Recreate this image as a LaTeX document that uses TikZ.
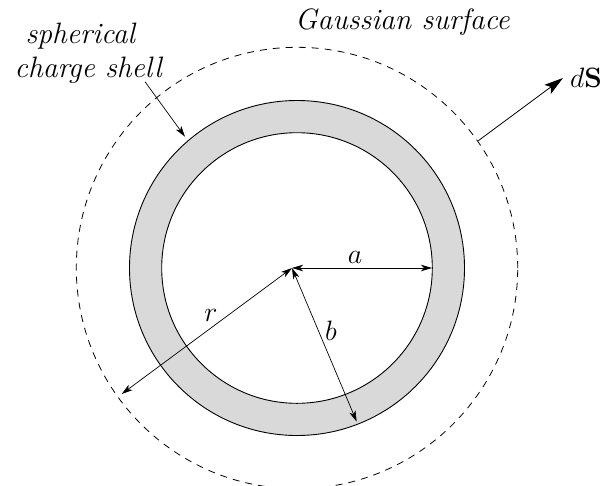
\RequirePackage{fix-cm}
\documentclass[tikz,border=0pt]{standalone}
\usetikzlibrary{arrows.meta}
\begin{document}
\begin{tikzpicture}[x=1pt,y=-1pt,
  shellfill/.style={fill=black!15},
  ring/.style={draw=black,line width=0.9pt},
  gauss/.style={draw=black,line width=0.8pt,dash pattern=on 7pt off 6pt},
  dim/.style={draw=black,line width=0.7pt,{Stealth[length=11pt,width=6.5pt,inset=3pt]}-{Stealth[length=11pt,width=6.5pt,inset=3pt]}},
  pointer/.style={draw=black,line width=0.7pt,-{Stealth[length=11pt,width=6.5pt,inset=3pt]}},
  normal/.style={draw=black,line width=0.8pt,-{Stealth[length=19pt,width=11pt,inset=4pt]}},
  lbl/.style={font=\fontsize{29.5}{34}\selectfont\itshape,inner sep=0pt},
  mlbl/.style={font=\fontsize{28}{32}\selectfont,inner sep=0pt}]
\useasboundingbox (0,0) rectangle (604,485);
\coordinate (C) at (297,268);
\coordinate (O) at (292,268);
% shell
\fill[shellfill,even odd rule] (C) circle[radius=167.5pt] (C) circle[radius=135.3pt];
\draw[ring] (C) circle[radius=167.5pt];
\draw[ring] (C) circle[radius=135.3pt];
% gaussian surface
\draw[gauss] (C) circle[radius=220.7pt];
% radii
\coordinate (aE) at (432,268);
\coordinate (rE) at (121.7,394);
\coordinate (bE) at (356.7,421.7);
\draw[dim] (O) -- (aE);
\draw[dim] (O) -- (rE);
\draw[dim] (O) -- (bE);
\node[mlbl,anchor=base] (la) at (355,263.3) {$a$};
\node[mlbl,anchor=base] (lr) at (211,321.7) {$r$};
\node[mlbl,anchor=base] (lb) at (331,340) {$b$};
% dS
\coordinate (nS) at (478.3,140.7);
\coordinate (nE) at (563,78);
\draw[normal] (nS) -- (nE);
\node[mlbl,anchor=base west] (ldS) at (570,87) {$d\mathbf{S}$};
% labels
\node[lbl,anchor=base west] (lgauss) at (295,29) {Gaussian surface};
\node[lbl,align=center,anchor=base] (lshell) at (88.3,77.3) {spherical\hspace*{16pt}\\charge shell};
\coordinate (pS) at (145,81.7);
\coordinate (pE) at (185,136.7);
\draw[pointer] (pS) -- (pE);
\end{tikzpicture}
\end{document}
